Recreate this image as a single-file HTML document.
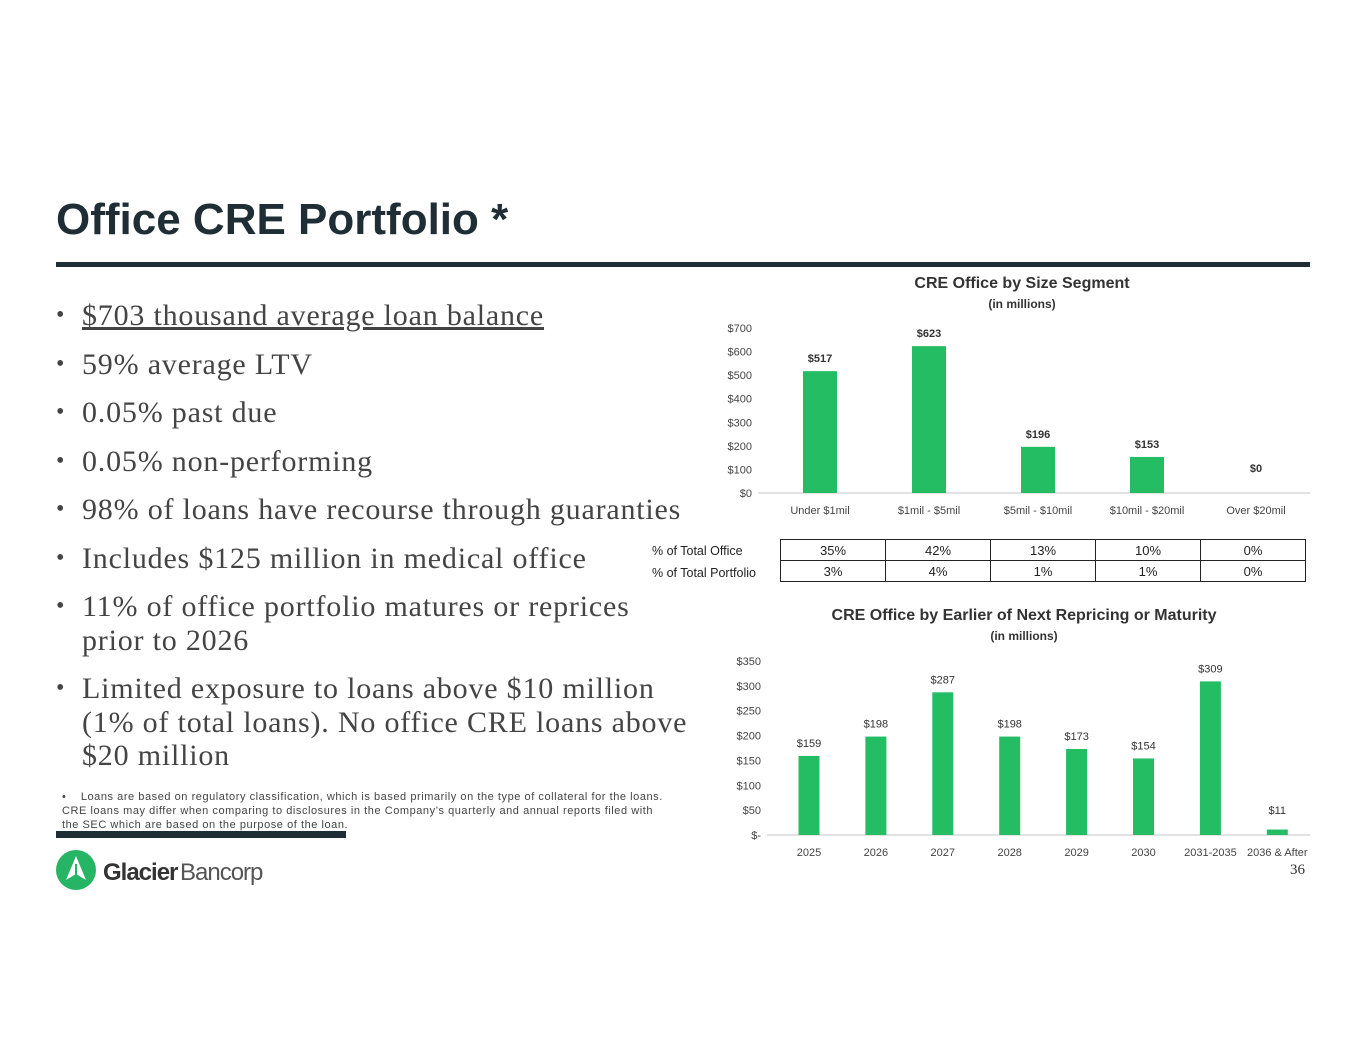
<!DOCTYPE html>
<html><head><meta charset="utf-8"><style>
body{margin:0;width:1365px;height:1055px;background:#fff;position:relative;overflow:hidden;font-family:"Liberation Sans",sans-serif}
.abs{position:absolute}
.title{left:56px;top:195px;font-size:44px;font-weight:bold;color:#1f2e35;letter-spacing:0px}
.rule{left:56px;top:262px;width:1254px;height:5px;background:#1f2e35}
ul{position:absolute;left:56px;top:299px;width:660px;margin:0;padding:0;list-style:none;font-family:"Liberation Serif",serif;font-size:30px;letter-spacing:0.8px;color:#444;line-height:33.5px;white-space:nowrap}
ul li{position:relative;padding-left:26px;margin-bottom:15px}
ul li:before{content:"•";position:absolute;left:0;font-size:24px}
.foot{left:62px;top:790px;width:660px;font-size:11px;letter-spacing:0.55px;color:#444;line-height:14px;white-space:nowrap}
.bar2{left:56px;top:831px;width:290px;height:7px;background:#1f2e35}
table{position:absolute;left:780px;top:539px;border-collapse:collapse;font-size:13px;color:#222}
td{border:1.5px solid #222;width:104px;height:20px;text-align:center;padding:0}
.rl{font-size:12.5px;color:#222}
svg text{font-family:"Liberation Sans",sans-serif}
</style></head><body>
<div class="abs title">Office CRE Portfolio *</div>
<div class="abs rule"></div>
<ul>
<li><u>$703 thousand average loan balance</u></li>
<li>59% average LTV</li>
<li>0.05% past due</li>
<li>0.05% non-performing</li>
<li>98% of loans have recourse through guaranties</li>
<li>Includes $125 million in medical office</li>
<li>11% of office portfolio matures or reprices<br>prior to 2026</li>
<li>Limited exposure to loans above $10 million<br>(1% of total loans). No office CRE loans above<br>$20 million</li>
</ul>
<div class="abs foot">•&nbsp;&nbsp;&nbsp;&nbsp;Loans are based on regulatory classification, which is based primarily on the type of collateral for the loans.<br>CRE loans may differ when comparing to disclosures in the Company’s quarterly and annual reports filed with<br>the SEC which are based on the purpose of the loan.</div>
<div class="abs bar2"></div>
<div class="abs" style="left:56px;top:850px">
<svg width="210" height="42"><circle cx="20" cy="20" r="20" fill="#25b565"/><path d="M20 6 L10 30 L20 24 L30 30 Z" fill="#fff"/><rect x="19" y="14" width="2" height="22" fill="#25b565"/>
<text x="47" y="30" font-size="24" font-weight="bold" fill="#333" letter-spacing="-1">Glacier</text><text x="124" y="30" font-size="24" fill="#555" letter-spacing="-1">Bancorp</text></svg></div>
<div class="abs" style="left:1290px;top:862px;font-family:'Liberation Serif',serif;font-size:15px;color:#333">36</div>

<div class="abs" style="left:652px;top:542px"><span class="rl">% of Total Office</span></div>
<div class="abs" style="left:652px;top:564px"><span class="rl">% of Total Portfolio</span></div>
<table>
<tr><td>35%</td><td>42%</td><td>13%</td><td>10%</td><td>0%</td></tr>
<tr><td>3%</td><td>4%</td><td>1%</td><td>1%</td><td>0%</td></tr>
</table>

<svg class="abs" style="left:0;top:0" width="1365" height="1055" id="charts"></svg>
<script>
const cats1=["Under $1mil","$1mil - $5mil","$5mil - $10mil","$10mil - $20mil","Over $20mil"];
const vals1=[517,623,196,153,0];
const labels1=["$517","$623","$196","$153","$0"];
const ticks1=[0,100,200,300,400,500,600,700];
const cats2=["2025","2026","2027","2028","2029","2030","2031-2035","2036 & After"];
const vals2=[159,198,287,198,173,154,309,11];
const ticks2=[0,50,100,150,200,250,300,350];
const tickLabels2=["$-","$50","$100","$150","$200","$250","$300","$350"];
const svg=document.getElementById('charts');
const NS="http://www.w3.org/2000/svg";
function mk(t,a,txt){const e=document.createElementNS(NS,t);for(const k in a)e.setAttribute(k,a[k]);if(txt!==undefined)e.textContent=txt;svg.appendChild(e);return e;}
function chart(o){
 const y=v=>o.y0-(v/o.max)*(o.y0-o.y1);
 const x=i=>o.x0+o.step*i;
 let t=mk('text',{x:o.cx,y:o.ty,'text-anchor':'middle','font-size':16,'font-weight':'bold',fill:'#333'},o.title);
 
 
 t=mk('text',{x:o.cx,y:o.ty+20,'text-anchor':'middle','font-size':12,'font-weight':'bold',fill:'#333'},'(in millions)');
 
 
 o.ticks.forEach((v,i)=>{const e=mk('text',{x:o.ax-6,y:y(v)+4,'text-anchor':'end','font-size':11,fill:'#444'},o.tl[i]);
  
  });
 const l=mk('line',{x1:o.ax,x2:1310,y1:o.y0,y2:o.y0,stroke:'#d9d9d9','stroke-width':1.5});
 
 
 o.cats.forEach((c,i)=>{
  const v=o.vals[i];
  const r=mk('rect',{x:x(i)-o.bw/2,y:y(v),width:o.bw,height:o.y0-y(v),fill:'#25bd63'});
  
  
  const lab=mk('text',{x:x(i),y:Math.min(y(v),o.y0-12)-9,'text-anchor':'middle','font-size':11,'font-weight':o.bold?'bold':'normal',fill:'#333'},o.lbl(i));
  
  
  const xl=mk('text',{x:x(i),y:o.y0+21,'text-anchor':'middle','font-size':11,fill:'#444'},c);
  
  
 });
}
chart({id:'size-chart',title:'CRE Office by Size Segment',cx:1022,ty:288,cats:cats1,vals:vals1,lbl:i=>labels1[i],ticks:ticks1,tl:ticks1.map(v=>'$'+v),max:700,y0:493,y1:328,x0:820,step:109,bw:34,ax:758,bold:true});
chart({id:'maturity-chart',title:'CRE Office by Earlier of Next Repricing or Maturity',cx:1024,ty:620,cats:cats2,vals:vals2,lbl:i=>'$'+vals2[i],ticks:ticks2,tl:tickLabels2,max:350,y0:835,y1:661,x0:809,step:66.9,bw:21,ax:767,bold:false});
</script>
</body></html>
